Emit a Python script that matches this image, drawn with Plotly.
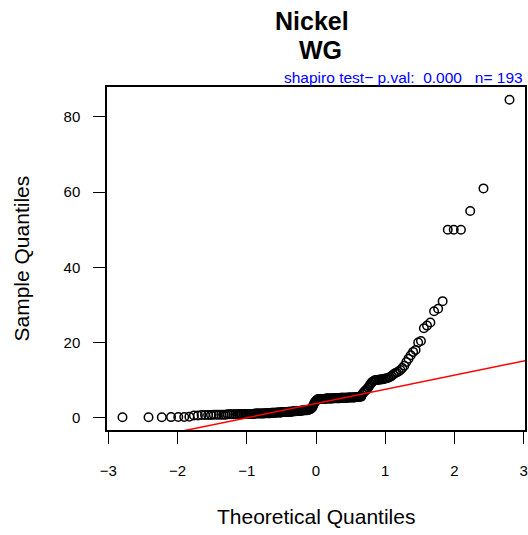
import plotly.graph_objects as go
import numpy as np
from statistics import NormalDist

# Sorted sample values (Nickel, WG)
sample_values = [
    0.1, 0.1, 0.1, 0.15, 0.2, 0.2, 0.25,
    0.6, 0.6, 0.7, 0.7, 0.7, 0.7, 0.8, 0.8, 0.8, 0.8, 0.8, 0.8, 0.9,
    0.9, 0.9, 0.9, 0.9, 0.9, 1.0, 1.0, 1.0, 1.0, 1.0, 1.0, 1.0, 1.0, 1.0, 1.0, 1.0, 1.1, 1.1, 1.1, 1.1,
    1.1, 1.1, 1.1, 1.1, 1.2, 1.2, 1.2, 1.2, 1.2, 1.2, 1.3, 1.3, 1.3, 1.3, 1.3, 1.4, 1.4, 1.4, 1.4, 1.4,
    1.5, 1.5, 1.5, 1.5, 1.5, 1.5, 1.6, 1.6, 1.6, 1.6, 1.6, 1.7, 1.7, 1.7, 1.7, 1.8, 1.8, 1.8, 1.8, 1.8,
    1.9, 1.9, 1.9, 2.0, 2.0, 2.0, 2.0, 2.1, 2.1, 2.2, 2.3, 2.5,
    2.8, 3.3, 3.8, 4.2, 4.5, 4.7, 4.9,
    5.0, 5.0, 5.0, 5.0, 5.0, 5.0, 5.0, 5.0,
    5.1, 5.1, 5.1, 5.1, 5.1, 5.1, 5.1, 5.1,
    5.2, 5.2, 5.2, 5.2, 5.2, 5.2, 5.2, 5.2,
    5.3, 5.3, 5.3, 5.3, 5.3, 5.3, 5.3, 5.3,
    5.4, 5.4, 5.4, 5.4, 5.4, 5.4, 5.4,
    5.5, 5.5, 5.5, 5.5, 5.6, 5.6,
    6.3, 6.7, 7.0, 7.3, 7.6, 8.0, 8.5, 9.0, 9.4, 9.7, 9.9,
    10.0, 10.0, 10.1, 10.1, 10.2, 10.2, 10.3, 10.4, 10.5, 10.6,
    10.8, 11.1, 11.5, 11.8, 12.0, 12.3, 12.7, 13.2, 13.8, 14.8, 15.7, 16.6, 17.5, 18.0,
    20.0, 20.4, 23.8, 24.5, 25.3, 28.3, 29.0, 31.0,
    50.0, 50.0, 50.0, 55.0, 61.0, 84.6,
]

title_lines = ["Nickel", "WG"]
subtitle = "shapiro test\u2212 p.val:\u00a0\u00a00.000\u00a0\u00a0\u00a0n=\u00a0193"
x_label = "Theoretical Quantiles"
y_label = "Sample Quantiles"
x_ticks = [-3, -2, -1, 0, 1, 2, 3]
y_ticks = [0, 20, 40, 60, 80]

n = len(sample_values)
nd = NormalDist()
theoretical = [nd.inv_cdf((i - 0.5) / n) for i in range(1, n + 1)]

# qqline through the quartiles
q1, q3 = np.quantile(sample_values, [0.25, 0.75])
z1, z3 = nd.inv_cdf(0.25), nd.inv_cdf(0.75)
slope = (q3 - q1) / (z3 - z1)
intercept = q1 - slope * z1

xmin, xmax = min(theoretical), max(theoretical)
xpad = 0.04 * (xmax - xmin)
xr = [xmin - xpad, xmax + xpad]
ymin, ymax = min(sample_values), max(sample_values)
ypad = 0.04 * (ymax - ymin)
yr = [ymin - ypad, ymax + ypad]

font = "Liberation Sans, Arial, Helvetica, sans-serif"

fig = go.Figure()
fig.add_trace(go.Scatter(
    x=theoretical, y=sample_values, mode="markers",
    marker=dict(symbol="circle-open", size=8.5, color="black",
                line=dict(color="black", width=1.5)),
    showlegend=False, hoverinfo="x+y",
))
fig.add_trace(go.Scatter(
    x=xr, y=[intercept + slope * v for v in xr], mode="lines",
    line=dict(color="#FF0000", width=1.5), showlegend=False,
))

axis_common = dict(
    showgrid=False, zeroline=False, showline=True, mirror=True,
    linecolor="black", linewidth=1.5, ticks="outside", ticklen=12,
    tickwidth=1, tickcolor="black",
    tickfont=dict(family=font, size=15, color="black"),
)
fig.update_xaxes(range=xr, tickvals=x_ticks, ticktext=[("\u2212" + str(-t)) if t < 0 else str(t) for t in x_ticks],
                 ticklabelstandoff=14, **axis_common)
fig.update_yaxes(range=yr, tickvals=y_ticks, ticklabelstandoff=10, **axis_common)

annotations = [
    dict(text="<b>%s</b>" % title_lines[0], xref="paper", yref="paper", x=0.5, y=1,
         xshift=-4, yshift=66, xanchor="center", yanchor="middle", showarrow=False,
         font=dict(family=font, size=25, color="black")),
    dict(text="<b>%s</b>" % title_lines[1], xref="paper", yref="paper", x=0.5, y=1,
         xshift=4, yshift=37, xanchor="center", yanchor="middle", showarrow=False,
         font=dict(family=font, size=25, color="black")),
    dict(text=subtitle, xref="paper", yref="paper", x=1, y=1, xanchor="right",
         yanchor="middle", yshift=10, showarrow=False,
         font=dict(family=font, size=15.5, color="#0000FF")),
    dict(text=x_label, xref="paper", yref="paper", x=0.5, y=0, xanchor="center",
         yanchor="middle", yshift=-86, showarrow=False,
         font=dict(family=font, size=21, color="black")),
    dict(text=y_label, xref="paper", yref="paper", x=0, y=0.5, xanchor="center",
         yanchor="middle", xshift=-86, textangle=-90, showarrow=False,
         font=dict(family=font, size=21, color="black")),
]

fig.update_layout(
    width=528, height=535,
    margin=dict(l=107, r=1, t=87, b=105),
    paper_bgcolor="white", plot_bgcolor="white",
    annotations=annotations,
)

fig.write_html(
    "out.html",
    config={"displayModeBar": False},
    post_script="document.body.style.margin='0';document.body.style.overflow='hidden';",
)
